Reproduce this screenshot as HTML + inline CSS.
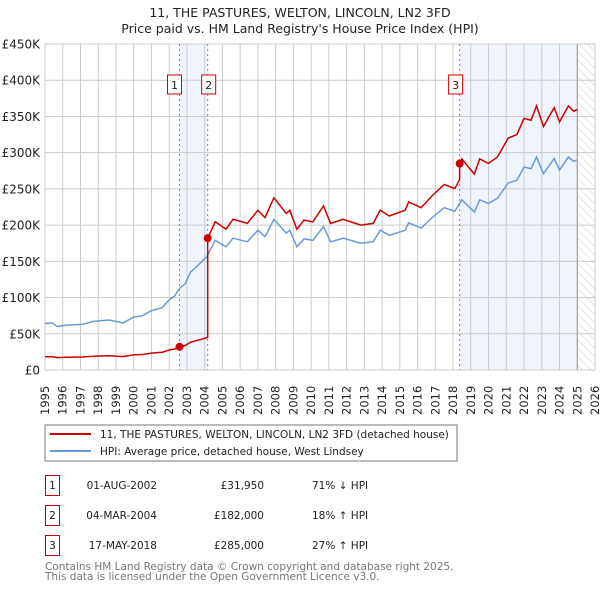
<!DOCTYPE html>
<html><head><meta charset="utf-8"><style>
body{margin:0;background:#fff;font-family:"Liberation Sans","DejaVu Sans",sans-serif;}
svg text{font-family:"DejaVu Sans","Liberation Sans",sans-serif;}
</style></head><body>
<svg id="c" width="600" height="590" xmlns="http://www.w3.org/2000/svg">
<defs><pattern id="hatch" width="6" height="6" patternUnits="userSpaceOnUse" patternTransform="rotate(-45)"><line x1="0" y1="0" x2="0" y2="6" stroke="#ccc" stroke-width="1"/></pattern></defs>
<text x="300" y="17" text-anchor="middle" font-size="12.5" fill="#222">11, THE PASTURES, WELTON, LINCOLN, LN2 3FD</text>
<text x="300" y="33" text-anchor="middle" font-size="12.5" fill="#222">Price paid vs. HM Land Registry's House Price Index (HPI)</text>
<g id="plot"></g>
<rect x="45" y="425" width="412" height="36" fill="#fff" stroke="#777"/>
<line x1="50" y1="434" x2="91" y2="434" stroke="#cc0000" stroke-width="2"/>
<text x="100" y="438" font-size="10.5" fill="#222">11, THE PASTURES, WELTON, LINCOLN, LN2 3FD (detached house)</text>
<line x1="50" y1="451" x2="91" y2="451" stroke="#6b9bd7" stroke-width="2"/>
<text x="100" y="455" font-size="10.5" fill="#222">HPI: Average price, detached house, West Lindsey</text>
<g id="table" font-size="10.5" fill="#222"></g>
<text x="45" y="570" font-size="10.5" fill="#777">Contains HM Land Registry data © Crown copyright and database right 2025.</text>
<text x="45" y="580" font-size="10.5" fill="#777">This data is licensed under the Open Government Licence v3.0.</text>
</svg>
<script>
const hpiYears=[1995.0,1995.4,1995.7,1996.2,1997.1,1997.7,1998.6,1999.4,2000.0,2000.5,2001.0,2001.6,2002.0,2002.3,2002.6,2002.9,2003.2,2003.6,2004.1,2004.6,2005.2,2005.6,2006.4,2007.0,2007.4,2007.9,2008.6,2008.8,2009.2,2009.6,2010.1,2010.7,2011.1,2011.8,2012.8,2013.5,2013.9,2014.4,2015.3,2015.5,2016.2,2016.8,2017.5,2018.1,2018.5,2018.9,2019.2,2019.5,2020.0,2020.5,2021.1,2021.6,2022.0,2022.4,2022.7,2023.1,2023.7,2024.0,2024.5,2024.8,2025.0];
const hpiValues=[64,65,60,62,63,67,69,65,73,75,82,86,97,102,113,119,135,144,156,179,170,182,177,193,184,208,189,193,170,181,179,198,177,182,175,177,193,186,193,203,196,210,224,219,235,225,218,235,230,237,258,262,280,278,294,271,292,276,294,288,290];
const saleDates=[2002.58,2004.17,2018.37];
const salePrices=[31950,182000,285000];
const saleLabels=["1","2","3"];
const saleDateText=["01-AUG-2002","04-MAR-2004","17-MAY-2018"];
const salePriceText=["£31,950","£182,000","£285,000"];
const saleHpiText=["71% ↓ HPI","18% ↑ HPI","27% ↑ HPI"];
const yTicks=[0,50,100,150,200,250,300,350,400,450];
const yTickLabels=["£0","£50K","£100K","£150K","£200K","£250K","£300K","£350K","£400K","£450K"];
const xYears=[];for(let y=1995;y<=2026;y++)xYears.push(y);

const NS="http://www.w3.org/2000/svg";
const X0=45,X1=595,Y0=370,Y1=44;
const xs=y=>X0+(y-1995)/(2026-1995)*(X1-X0);
const ys=v=>Y0-v/450*(Y0-Y1);
function mk(p,t,a){const e=document.createElementNS(NS,t);for(const k in a)e.setAttribute(k,a[k]);p.appendChild(e);return e;}
const plot=document.getElementById('plot');
function hpiAt(t){for(let i=0;i<hpiYears.length-1;i++){if(t<=hpiYears[i+1]){const f=(t-hpiYears[i])/(hpiYears[i+1]-hpiYears[i]);return hpiValues[i]+f*(hpiValues[i+1]-hpiValues[i]);}}return hpiValues[hpiValues.length-1];}
let e=mk(plot,'rect',{x:xs(saleDates[0]),y:Y1,width:xs(saleDates[1])-xs(saleDates[0]),height:Y0-Y1,fill:'#f0f4fc'});


e=mk(plot,'rect',{x:xs(saleDates[2]),y:Y1,width:xs(2025)-xs(saleDates[2]),height:Y0-Y1,fill:'#f0f4fc'});


e=mk(plot,'rect',{x:xs(2025),y:Y1,width:X1-xs(2025),height:Y0-Y1,fill:'url(#hatch)'});


xYears.forEach(y=>{const l=mk(plot,'line',{x1:xs(y),x2:xs(y),y1:Y1,y2:Y0,stroke:'#ccc','stroke-width':1});


const t=mk(plot,'text',{x:0,y:0,transform:`translate(${xs(y)+4},415) rotate(-90)`,'font-size':11.5,fill:'#222'});t.textContent=y;

});
yTicks.forEach((v,i)=>{const l=mk(plot,'line',{x1:X0,x2:X1,y1:ys(v),y2:ys(v),stroke:'#ccc','stroke-width':1});


const t=mk(plot,'text',{x:40,y:ys(v)+4.5,'text-anchor':'end','font-size':12,fill:'#222'});t.textContent=yTickLabels[i];

});
e=mk(plot,'line',{x1:xs(2025),x2:xs(2025),y1:Y1,y2:Y0,stroke:'#999','stroke-width':1});


const boxOff=[-12,-6,-11];
saleDates.forEach((d,i)=>{const l=mk(plot,'line',{x1:xs(d),x2:xs(d),y1:Y1,y2:Y0,stroke:'#e06060','stroke-width':1,'stroke-dasharray':'2,3'});


const bx=xs(d)+boxOff[i]-(i==1?0:0);
const r=mk(plot,'rect',{x:bx-(i==1?0:0),y:75,width:14,height:19,fill:'#fff',stroke:'#cc0000'});


const t=mk(plot,'text',{x:bx+7,y:89,'text-anchor':'middle','font-size':11,fill:'#222'});t.textContent=saleLabels[i];

});
let pts=hpiYears.map((y,i)=>xs(y).toFixed(1)+','+ys(hpiValues[i]).toFixed(1));
e=mk(plot,'polyline',{points:pts.join(' '),fill:'none',stroke:'#6b9bd7','stroke-width':1.5});


const f=saleDates.map((d,i)=>salePrices[i]/1000/hpiAt(d));
function factor(t){let k=0;for(let i=0;i<saleDates.length;i++)if(t>=saleDates[i])k=i;return f[k];}
let rp=[];
const times=[...hpiYears,...saleDates].sort((a,b)=>a-b);
times.forEach(t=>{
 saleDates.forEach((d,i)=>{if(t===d){const pv=hpiAt(d)*(i==0?f[0]:f[i-1]);rp.push(xs(d).toFixed(1)+','+ys(pv).toFixed(1));}});
 rp.push(xs(t).toFixed(1)+','+ys(hpiAt(t)*factor(t)).toFixed(1));});
e=mk(plot,'polyline',{points:rp.join(' '),fill:'none',stroke:'#cc0000','stroke-width':1.5});


saleDates.forEach((d,i)=>{const c=mk(plot,'circle',{cx:xs(d),cy:ys(salePrices[i]/1000),r:4,fill:'#cc0000'});

});
const tb=document.getElementById('table');
saleDates.forEach((d,i)=>{const yy=475+i*30;
const r=mk(tb,'rect',{x:45.5,y:yy+0.5,width:14,height:20,fill:'#fff',stroke:'#cc0000'});


let t=mk(tb,'text',{x:52.5,y:yy+14,'text-anchor':'middle'});t.textContent=saleLabels[i];


t=mk(tb,'text',{x:157,y:yy+14,'text-anchor':'end'});t.textContent=saleDateText[i];


t=mk(tb,'text',{x:264,y:yy+14,'text-anchor':'end'});t.textContent=salePriceText[i];


t=mk(tb,'text',{x:312,y:yy+14});t.textContent=saleHpiText[i];

});
</script>
</body></html>
